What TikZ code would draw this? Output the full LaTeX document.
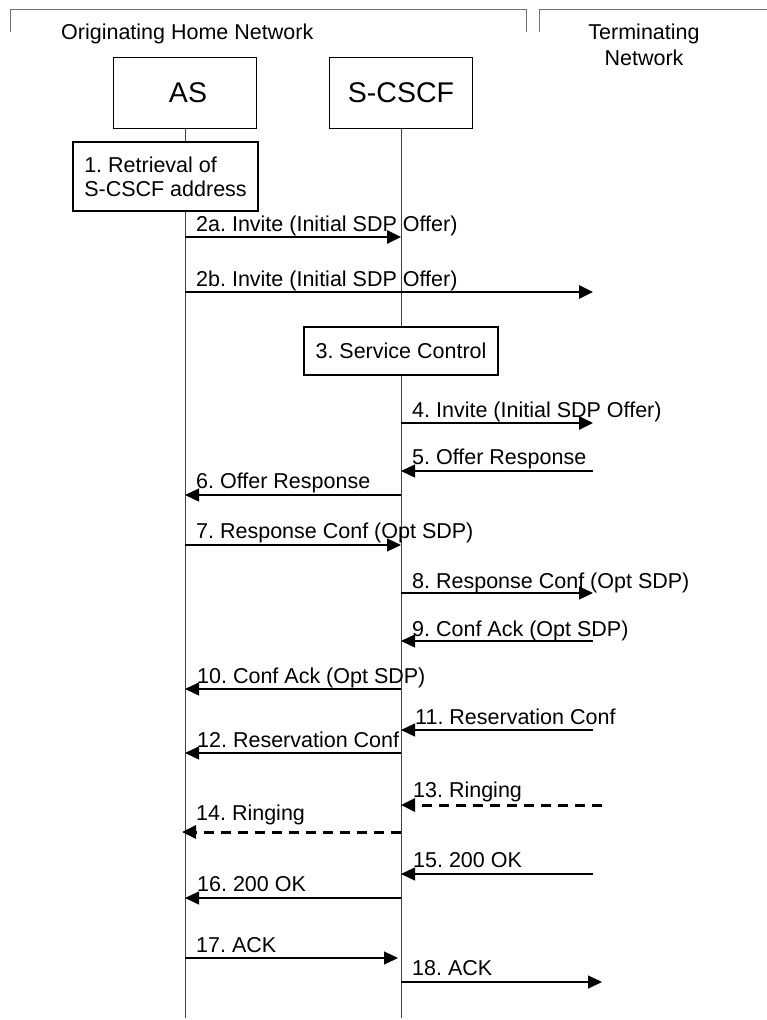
\documentclass[tikz,border=0pt]{standalone}
\usepackage{fontspec}
\setmainfont{Liberation Sans}
\usetikzlibrary{arrows.meta}
\frenchspacing
\begin{document}
\begin{tikzpicture}[x=1pt,y=-1pt,
  lifeline/.style={draw=black!75, line width=1pt},
  bracket/.style={draw=black!55, line width=1pt},
  entity/.style={draw, line width=1pt, fill=white, minimum width=143pt, minimum height=71pt, inner sep=0pt, font=\fontsize{28.5}{30}\selectfont},
  procbox/.style={draw, line width=2.5pt, fill=white, inner sep=0pt, font=\fontsize{21.5}{25}\selectfont},
  msg/.style={line width=1.2pt, -{Triangle[length=14pt,width=13pt]}},
  msgthick/.style={msg, line width=2.6pt},
  msgdash/.style={msg, line width=3pt, dash pattern=on 10pt off 7pt},
  lbl/.style={anchor=base west, inner sep=0pt, font=\fontsize{21.5}{25}\selectfont},
  ttl/.style={anchor=base, inner sep=0pt, font=\fontsize{21.5}{25}\selectfont}]
\useasboundingbox (0,0) rectangle (767,1020);
% network brackets
\draw[bracket] (10,32) -- (10,9) -- (526,9) -- (526,32);
\draw[bracket] (539,32) -- (539,9) -- (767,9);
\node[lbl] (orig) at (61,39) {Originating Home Network};
\node[ttl] (term1) at (644,39) {Terminating};
\node[ttl] (term2) at (644,65) {Network};
% entities
\node[entity] (AS) at (185,92.5) {\hspace*{6pt}AS};
\node[entity] (SC) at (401,92.5) {S-CSCF};
\coordinate (ASend) at (185,1018);
\coordinate (SCend) at (401,1018);
\coordinate (T) at (593,0);
\coordinate (TD) at (602,0);
\draw[lifeline] (AS.south) -- (ASend);
\draw[lifeline] (SC.south) -- (SCend);
% procedure boxes
\node[procbox, minimum width=185pt, minimum height=69pt, align=left] (p1) at (165.5,176.5) {1. Retrieval of\\[-1pt]S-CSCF address};
\node[procbox, minimum width=194pt, minimum height=48pt] (p3) at (401,351) {3. Service Control};
% message rows
\foreach \n/\y in {2a/237,2b/292,4/423,5/471,6/495,7/545,8/593,9/641,10/689,11/730,12/753,13/805,14/832,15/874,16/898,17/958,18/982}
  \coordinate (m\n) at (0,\y);
% messages
\draw[msgthick] (AS |- m2a) -- (SC |- m2a);
\node[lbl] (l2a) at (196,231) {2a. Invite (Initial SDP Offer)};
\draw[msgthick] (AS |- m2b) -- (T |- m2b);
\node[lbl] (l2b) at (196,286) {2b. Invite (Initial SDP Offer)};
\draw[msgthick] (SC |- m4) -- (T |- m4);
\node[lbl] (l4) at (412,417) {4. Invite (Initial SDP Offer)};
\draw[msg] (T |- m5) -- (SC |- m5);
\node[lbl] (l5) at (412,464) {5. Offer Response};
\draw[msg] (SC |- m6) -- (AS |- m6);
\node[lbl] (l6) at (196,488) {6. Offer Response};
\draw[msg] (AS |- m7) -- (SC |- m7);
\node[lbl] (l7) at (196,538) {7. Response Conf (Opt SDP)};
\draw[msg] (SC |- m8) -- (T |- m8);
\node[lbl] (l8) at (412,588) {8. Response Conf (Opt SDP)};
\draw[msg] (T |- m9) -- (SC |- m9);
\node[lbl] (l9) at (412,636) {9. Conf Ack (Opt SDP)};
\draw[msg] (SC |- m10) -- (AS |- m10);
\node[lbl] (l10) at (197,683) {10. Conf Ack (Opt SDP)};
\draw[msg] (T |- m11) -- (SC |- m11);
\node[lbl] (l11) at (415,724) {11. Reservation Conf};
\draw[msg] (SC |- m12) -- (AS |- m12);
\node[lbl] (l12) at (197,747) {12. Reservation Conf};
\draw[msgdash] (TD |- m13) -- (SC |- m13);
\node[lbl] (l13) at (413,797) {13. Ringing};
\draw[msgdash, shorten >=-3pt] (SC |- m14) -- (AS |- m14);
\node[lbl] (l14) at (196,820) {14. Ringing};
\draw[msg] (T |- m15) -- (SC |- m15);
\node[lbl] (l15) at (413,867) {15. 200 OK};
\draw[msg] (SC |- m16) -- (AS |- m16);
\node[lbl] (l16) at (197,891) {16. 200 OK};
\draw[msg, shorten >=3pt] (AS |- m17) -- (SC |- m17);
\node[lbl] (l17) at (196,952) {17. ACK};
\draw[msg] (SC |- m18) -- (TD |- m18);
\node[lbl] (l18) at (412,975) {18. ACK};
\end{tikzpicture}
\end{document}
